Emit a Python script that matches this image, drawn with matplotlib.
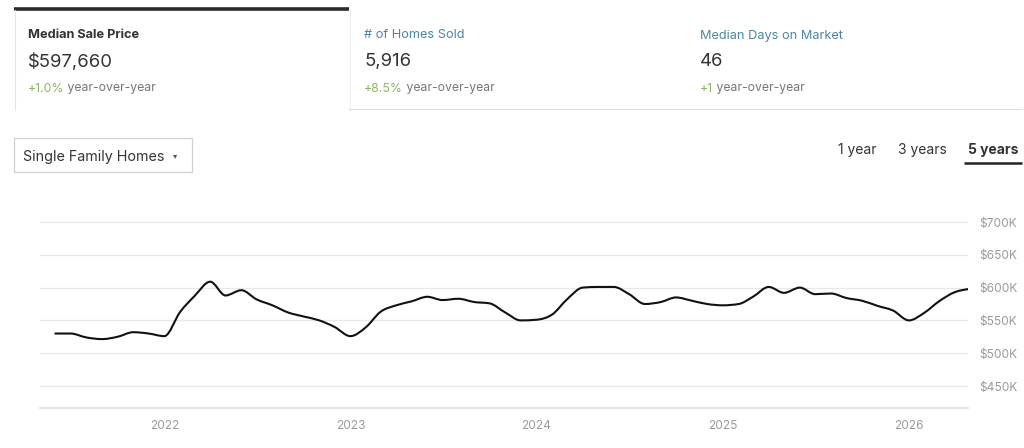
import datetime as dt
import numpy as np
import matplotlib
matplotlib.use("Agg")
import matplotlib.pyplot as plt
import matplotlib.dates as mdates
from matplotlib.path import Path
from matplotlib.patches import PathPatch, Rectangle
from matplotlib.lines import Line2D

plt.rcParams['font.family'] = ['Inter', 'DejaVu Sans']

# ---------------- data ----------------
start_year, start_month = 2021, 6
prices_k = [530, 530, 524, 521.5, 525, 532, 530, 526, 563, 587,
            609, 588, 596, 582, 573, 562, 556, 550, 540, 526,
            540, 563, 573, 579, 586, 581, 583, 578, 576, 562,
            550, 551, 559, 582, 600, 601, 601, 590, 575, 578,
            585, 580, 575, 573, 575, 586, 601, 592, 600, 590,
            591, 584, 580, 572, 565, 550, 562, 579, 593, 598]
year_ticks = [2022, 2023, 2024, 2025, 2026]
y_ticks_k = [450, 500, 550, 600, 650, 700]

metric_titles = ["Median Sale Price", "# of Homes Sold", "Median Days on Market"]
metric_values = ["$597,660", "5,916", "46"]
metric_changes = ["+1.0%", "+8.5%", "+1"]
period_tabs = ["1 year", "3 years", "5 years"]
dropdown_label = "Single Family Homes"

# ---------------- figure ----------------
W, H = 1024, 448
fig = plt.figure(figsize=(W / 100, H / 100), dpi=100)
fig.patch.set_facecolor('white')

# overlay in pixel coordinates for header widgets
ov = fig.add_axes([0, 0, 1, 1])
ov.set_xlim(0, W)
ov.set_ylim(H, 0)
ov.axis('off')

# tabs decoration
ov.add_line(Line2D([14, 349], [9, 9], color='#2b2b2b', lw=2.6, solid_capstyle='butt'))
ov.add_line(Line2D([14.5, 14.5], [10, 110], color='#e6e6e6', lw=0.8))
ov.add_line(Line2D([349.5, 349.5], [10, 110], color='#ededed', lw=0.8))
ov.add_line(Line2D([349, 1022], [109.5, 109.5], color='#e0e0e0', lw=0.8))

title_colors = ['#333333', '#4d86a3', '#4d86a3']
title_weights = ['bold', 'normal', 'normal']
xs = [28, 364, 700]
for i in range(3):
    ov.text(xs[i], 35.5, metric_titles[i], fontsize=9.2, color=title_colors[i],
            fontweight=title_weights[i], va='center', ha='left')
    ov.text(xs[i], 61.5, metric_values[i], fontsize=13.3, color='#333333',
            va='center', ha='left')
    t = ov.text(xs[i], 88.5, metric_changes[i], fontsize=8.8, color='#8ab95e',
                va='center', ha='left')
    ov.annotate(" year-over-year", xycoords=t, xy=(1, 0.5), va='center', ha='left',
                fontsize=8.8, color='#777777')

# dropdown
ov.add_patch(Rectangle((14, 138), 178, 34, fill=False, edgecolor='#d0d0d0', lw=0.9))
ov.text(23, 157.5, dropdown_label, fontsize=10.3, color='#333333', va='center', ha='left')
ov.text(175, 156, "\u25be", fontsize=6, color='#555555', va='center', ha='center',
        family=['DejaVu Sans'])

# period tabs
tab_x = [857, 922, 993]
for i, lab in enumerate(period_tabs):
    ov.text(tab_x[i], 150, lab, fontsize=10, color='#333333',
            fontweight='bold' if i == 2 else 'normal', va='center', ha='center')
ov.add_line(Line2D([964, 1022], [163.5, 163.5], color='#222222', lw=1.8, solid_capstyle='butt'))

# ---------------- chart ----------------
ax_left, ax_right = 40 / W, 968 / W
ax_top_px, ax_bot_px = 215, 408
ax = fig.add_axes([ax_left, 1 - ax_bot_px / H, ax_right - ax_left, (ax_bot_px - ax_top_px) / H])

dates = []
y, m = start_year, start_month
for _ in prices_k:
    dates.append(dt.date(y, m, 1))
    m += 1
    if m > 12:
        m = 1
        y += 1
xv = mdates.date2num(dates)
yv = np.array(prices_k, dtype=float) * 1000

# monotone-X cubic rendering (as d3.curveMonotoneX) via Bezier path
n = len(xv)
h = np.diff(xv)
s = np.diff(yv) / h
tan = np.zeros(n)
for i in range(1, n - 1):
    s0, s1 = s[i - 1], s[i]
    p = (s0 * h[i] + s1 * h[i - 1]) / (h[i - 1] + h[i])
    tan[i] = (np.sign(s0) + np.sign(s1)) * min(abs(s0), abs(s1), 0.5 * abs(p))
tan[0] = (3 * s[0] - tan[1]) / 2
tan[-1] = (3 * s[-1] - tan[-2]) / 2
verts = [(xv[0], yv[0])]
codes = [Path.MOVETO]
for i in range(n - 1):
    d = h[i] / 3
    verts += [(xv[i] + d, yv[i] + tan[i] * d), (xv[i + 1] - d, yv[i + 1] - tan[i + 1] * d),
              (xv[i + 1], yv[i + 1])]
    codes += [Path.CURVE4] * 3
ax.add_patch(PathPatch(Path(verts, codes), fill=False, edgecolor='#111111', lw=1.5,
                       capstyle='round', joinstyle='round', zorder=3))

y_lo = 700000 - (408 - 222) / 0.656 * 1000
y_hi = 700000 + (222 - 215) / 0.656 * 1000
ax.set_ylim(y_lo, y_hi)
x_right = mdates.date2num(dt.date(2026, 4, 27))
px_per_day = 186 / 365.0
x_left = x_right - 928 / px_per_day
ax.set_xlim(x_left, x_right)

for v in y_ticks_k:
    ax.axhline(v * 1000, color='#e8e8e8', lw=0.9, zorder=1)
ax.axhline(y_lo, color='#dddddd', lw=1.1, zorder=1, clip_on=False)

for sp in ax.spines.values():
    sp.set_visible(False)
ax.set_facecolor('none')
ax.yaxis.tick_right()
ax.set_yticks([v * 1000 for v in y_ticks_k])
ax.set_yticklabels([f"${v}K" for v in y_ticks_k])
ax.set_xticks([mdates.date2num(dt.date(yr, 1, 1)) for yr in year_ticks])
ax.set_xticklabels([str(yr) for yr in year_ticks])
ax.tick_params(axis='both', length=0, colors='#9a9a9a', labelsize=8.6)
ax.tick_params(axis='y', pad=8.5)
ax.tick_params(axis='x', pad=8.5)

fig.savefig("out.png", dpi=100, facecolor='white')
